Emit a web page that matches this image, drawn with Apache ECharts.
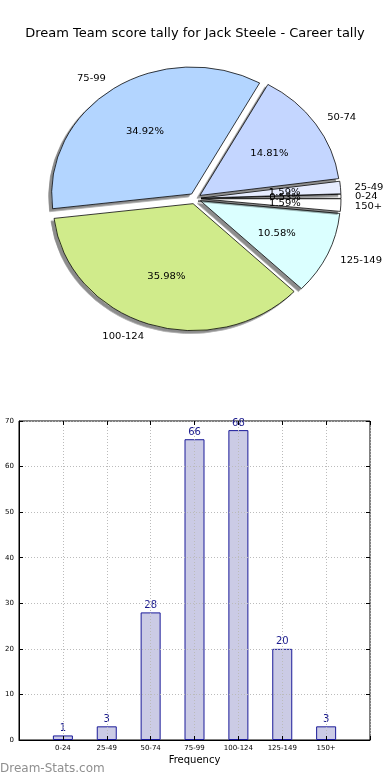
<!DOCTYPE html>
<html>
<head>
<meta charset="utf-8">
<script src="https://cdn.jsdelivr.net/npm/echarts@6/dist/echarts.min.js"></script>
<style>
html,body{margin:0;padding:0;background:#fff;}
#wrap{position:relative;width:390px;height:780px;}
#main{position:absolute;left:0;top:0;width:390px;height:780px;}
#pie{position:absolute;left:0;top:0;width:390px;height:400px;transform:scaleY(0.907);transform-origin:195px 198.5px;}
</style>
</head>
<body>
<div id="wrap"><div id="main"></div><div id="pie"></div></div>
<script>
const titleText = 'Dream Team score tally for Jack Steele - Career tally';
const categories = ['0-24', '25-49', '50-74', '75-99', '100-124', '125-149', '150+'];
const counts = [1, 3, 28, 66, 68, 20, 3];
const sliceColors = ['#ffffff', '#e6ecff', '#c4d6ff', '#b3d5ff', '#d0eb8b', '#dbffff', '#ffffff'];
const yTicks = [0, 10, 20, 30, 40, 50, 60, 70];
const xAxisName = 'Frequency';
const watermark = 'Dream-Stats.com';

const FONT = 'DejaVu Sans';

// ---------- main chart: title, bar chart, watermark ----------
const main = echarts.init(document.getElementById('main'), null, {renderer: 'canvas'});
const barData = categories.map((c, i) => [i, counts[i]]);
const axisCommonTick = {show: true, inside: true, length: 4, lineStyle: {color: '#000'}};
main.setOption({
  animation: false,
  textStyle: {fontFamily: FONT},
  title: {
    text: titleText, left: 'center', top: 22,
    textStyle: {fontFamily: FONT, fontSize: 13, fontWeight: 'normal', color: '#000'}
  },
  grid: {left: 19, right: 20, top: 421, bottom: 40, show: true, borderColor: '#000', borderWidth: 1, backgroundColor: 'transparent'},
  xAxis: [{
    type: 'value', min: -1, max: 7, interval: 1, z: 5,
    name: xAxisName, nameLocation: 'middle', nameGap: 15,
    nameTextStyle: {fontFamily: FONT, fontSize: 10, color: '#000'},
    axisLine: {show: true, onZero: false, lineStyle: {color: '#000'}},
    axisTick: axisCommonTick,
    axisLabel: {fontFamily: FONT, fontSize: 7, color: '#000', margin: 5,
      formatter: v => (categories[v] !== undefined ? categories[v] : '')},
    splitLine: {show: true, lineStyle: {color: '#bbb', type: [1, 2], width: 1}}
  }, {
    type: 'value', position: 'top', min: -1, max: 7, interval: 1, z: 5,
    axisLine: {show: false, onZero: false}, axisTick: axisCommonTick, axisLabel: {show: false}, splitLine: {show: false}
  }],
  yAxis: [{
    type: 'value', min: yTicks[0], max: yTicks[yTicks.length - 1], interval: 10, z: 5,
    axisLine: {show: true, onZero: false, lineStyle: {color: '#000'}},
    axisTick: axisCommonTick,
    axisLabel: {fontFamily: FONT, fontSize: 7, color: '#000', margin: 5},
    splitLine: {show: true, lineStyle: {color: '#bbb', type: [1, 2], width: 1}}
  }, {
    type: 'value', position: 'right', min: yTicks[0], max: yTicks[yTicks.length - 1], interval: 10, z: 5,
    axisLine: {show: false, onZero: false}, axisTick: axisCommonTick, axisLabel: {show: false}, splitLine: {show: false}
  }],
  series: [{
    type: 'bar', data: barData, barWidth: 20, z: 2,
    itemStyle: {color: '#cbcbe5', borderColor: '#1a1a99', borderWidth: 1},
    label: {show: true, position: 'top', distance: 2, fontFamily: FONT, fontSize: 10, color: '#1a1a8c'},
    emphasis: {disabled: true}
  }],
  graphic: [{
    type: 'text', left: 0, top: 763,
    style: {text: watermark, fontFamily: FONT, fontSize: 12, fill: '#8f8f8f'}
  }]
});

// ---------- pie chart (elliptical via vertical scale) ----------
const pie = echarts.init(document.getElementById('pie'), null, {renderer: 'svg'});
const pieData = categories.map((c, i) => ({
  name: c, value: counts[i], selected: true,
  itemStyle: {color: sliceColors[i]}
}));
const labelData = categories.map((c, i) => ({name: c, value: counts[i], selected: true}));
pie.setOption({
  animation: false,
  series: [{
    type: 'pie', center: [195, 198.5], radius: [0, 140],
    startAngle: 0, clockwise: false,
    selectedMode: 'multiple', selectedOffset: 6,
    avoidLabelOverlap: false,
    labelLayout: {hideOverlap: false},
    data: pieData,
    itemStyle: {borderColor: '#000', borderWidth: 0.8,
      shadowColor: 'rgba(0,0,0,0.45)', shadowOffsetX: -3, shadowOffsetY: 3, shadowBlur: 1},
    label: {show: true, position: 'outside', formatter: '{b}', fontFamily: FONT, fontSize: 10, color: '#000', distanceToLabelLine: 0},
    labelLine: {show: false, length: 14, length2: 0},
    emphasis: {disabled: true},
    select: {itemStyle: {borderColor: '#000', borderWidth: 0.8}}
  }, {
    type: 'pie', center: [195, 198.5], radius: [0, 162],
    startAngle: 0, clockwise: false,
    selectedMode: 'multiple', selectedOffset: 6,
    avoidLabelOverlap: false, silent: true,
    labelLayout: {hideOverlap: false},
    data: labelData,
    itemStyle: {color: 'transparent', borderWidth: 0},
    label: {show: true, position: 'inner', formatter: '{d}%', fontFamily: FONT, fontSize: 10, color: '#000', overflow: 'none'},
    labelLine: {show: false},
    emphasis: {disabled: true},
    select: {itemStyle: {color: 'transparent', borderWidth: 0}}
  }]
});
</script>
</body>
</html>
